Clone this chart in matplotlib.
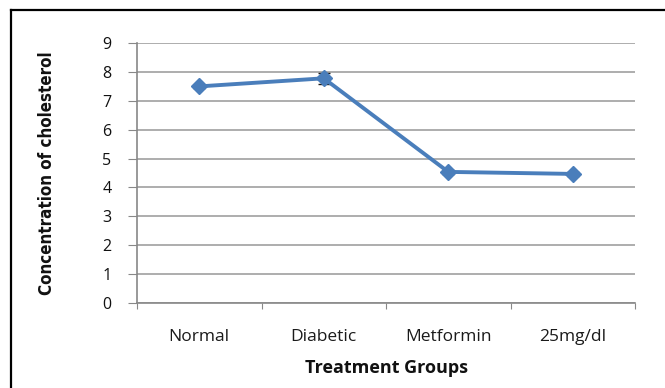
import matplotlib
matplotlib.use('agg')
from matplotlib import pyplot as plt
from matplotlib.lines import Line2D

groups = ['Normal', 'Diabetic', 'Metformin', '25mg/dl']
cholesterol = [7.5, 7.78, 4.54, 4.47]
cholesterol_err = [0.05, 0.19, 0.06, 0.08]
yticks = list(range(0, 10))

plt.rcParams['font.family'] = ['Open Sans', 'DejaVu Sans']

fig = plt.figure(figsize=(6.65, 3.88), dpi=100)
ax = fig.add_axes([0.206, 0.219, 0.749, 0.670])

# frame around the chart (left and top edges only)
fig.add_artist(Line2D([11/665, 11/665], [0, 1 - 10/388], transform=fig.transFigure,
                      color='black', lw=1.6))
fig.add_artist(Line2D([11/665, 1], [1 - 10/388, 1 - 10/388], transform=fig.transFigure,
                      color='black', lw=1.6))

x = [i + 0.5 for i in range(len(groups))]
ax.errorbar(x, cholesterol, yerr=cholesterol_err, color='#4a7ebb', lw=2.8,
            marker='D', markersize=8.5, ecolor='#1a1a1a', elinewidth=1, capsize=4.5,
            zorder=3)

ax.set_xlim(0, len(groups))
ax.set_ylim(0, 9)
ax.set_yticks(yticks)
ax.set_yticklabels([str(t) for t in yticks], fontsize=11.5, color='#111111')
ax.set_xticks(range(len(groups) + 1))
ax.set_xticklabels([])
ax.set_xticks(x, minor=True)
ax.set_xticklabels(groups, minor=True, fontsize=12.5, color='#1a1a1a')
ax.tick_params(axis='x', which='minor', length=0, pad=19)
ax.tick_params(axis='x', which='major', length=4, color='#888888', direction='out')
ax.tick_params(axis='y', length=6.5, color='#888888', direction='out', pad=12)

ax.grid(axis='y', color='#a0a0a0', lw=1.2)
ax.set_axisbelow(True)
for side in ['top', 'right']:
    ax.spines[side].set_visible(False)
for side in ['left', 'bottom']:
    ax.spines[side].set_color('#888888')
    ax.spines[side].set_linewidth(1.2)

ax.set_xlabel('Treatment Groups', fontsize=13, fontweight='bold', labelpad=10,
              color='#111111')
ax.set_ylabel('Concentration of cholesterol', fontsize=12.2, fontweight='bold',
              family='DejaVu Sans', fontstretch='condensed', labelpad=33,
              color='#111111')

fig.savefig('out.png', dpi=100)
